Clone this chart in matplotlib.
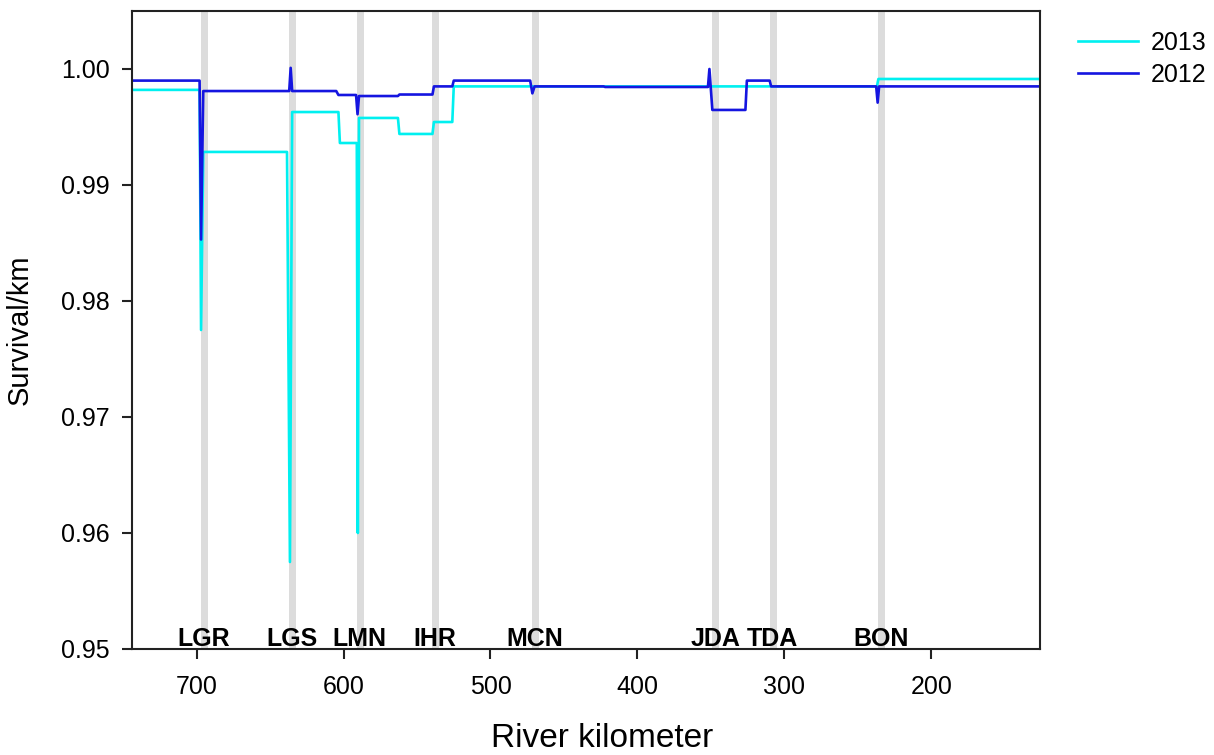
import matplotlib
matplotlib.use("Agg")
import matplotlib.pyplot as plt

plt.rcParams['font.family'] = ['Liberation Sans', 'DejaVu Sans']

# dam locations (river km) and names
dams = ['LGR', 'LGS', 'LMN', 'IHR', 'MCN', 'JDA', 'TDA', 'BON']
dam_km = [695, 635, 589, 538, 470, 347, 308, 234]

# 2013 survival per km (river km, value)
km_2013 = [744, 698, 697, 695.5, 638.5, 636.5, 635, 603.5, 602.5, 591, 590.3, 589.5,
           563, 562, 539.5, 538.5, 526, 525, 237, 236, 126]
surv_2013 = [0.9982, 0.9982, 0.9775, 0.99285, 0.99285, 0.9575, 0.99629, 0.99629, 0.99362,
             0.99362, 0.9600, 0.99578, 0.99578, 0.9944, 0.9944, 0.99543, 0.99543, 0.9985,
             0.9985, 0.99914, 0.99914]

# 2012 survival per km
km_2012 = [744, 698, 697, 695.5, 637, 636, 635, 605, 603.5, 591.5, 590.5, 589.5,
           563, 562, 539.5, 538.5, 526, 525, 473, 471.5, 470, 423, 422,
           352, 351, 349, 326.5, 325.5, 310, 309, 237.5, 236.5, 235.5, 126]
surv_2012 = [0.9990, 0.9990, 0.9853, 0.9981, 0.9981, 1.0001, 0.9981, 0.9981, 0.99776,
             0.99776, 0.9961, 0.99767, 0.99767, 0.9978, 0.9978, 0.9985, 0.9985, 0.9990,
             0.9990, 0.9979, 0.9985, 0.9985, 0.99845, 0.99845, 1.0000, 0.99647, 0.99647,
             0.9990, 0.9990, 0.9985, 0.9985, 0.9971, 0.9985, 0.9985]

fig = plt.figure(figsize=(12.14, 7.55), dpi=100)
ax = fig.add_axes([132 / 1214, 106 / 755, 908 / 1214, 638 / 755])

for k in dam_km:
    ax.axvline(k, color='#dcdcdc', lw=5, zorder=0)

ax.plot(km_2013, surv_2013, color='#00f0f0', lw=1.9, label='2013')
ax.plot(km_2012, surv_2012, color='#1515e0', lw=1.9, label='2012')

for name, k in zip(dams, dam_km):
    ax.text(k, 0.9503, name, ha='center', va='baseline', fontsize=18,
            fontweight='bold', color='black')

ax.set_xlim(744, 126)
ax.set_ylim(0.95, 1.005)
ax.set_xticks([700, 600, 500, 400, 300, 200])
ax.set_yticks([0.95, 0.96, 0.97, 0.98, 0.99, 1.00])
ax.set_yticklabels(['0.95', '0.96', '0.97', '0.98', '0.99', '1.00'])

for s in ax.spines.values():
    s.set_linewidth(1.5)
    s.set_color('#222222')
ax.tick_params(axis='both', direction='out', length=7, width=1.5,
               color='#222222', labelsize=18)
ax.tick_params(axis='x', pad=12)
ax.tick_params(axis='y', pad=9)

ax.set_xlabel('River kilometer', fontsize=24)
ax.xaxis.set_label_coords(0.518, -0.116)
ax.set_ylabel('Survival/km', fontsize=21)
ax.yaxis.set_label_coords(-0.108, 0.5)

fig.legend(loc='upper left', bbox_to_anchor=(1078 / 1214, 1 - 31 / 755),
           frameon=False, fontsize=18, handlelength=2.4, handletextpad=0.5,
           labelspacing=0.3, borderpad=0, borderaxespad=0)

fig.savefig('out.png', dpi=100)
